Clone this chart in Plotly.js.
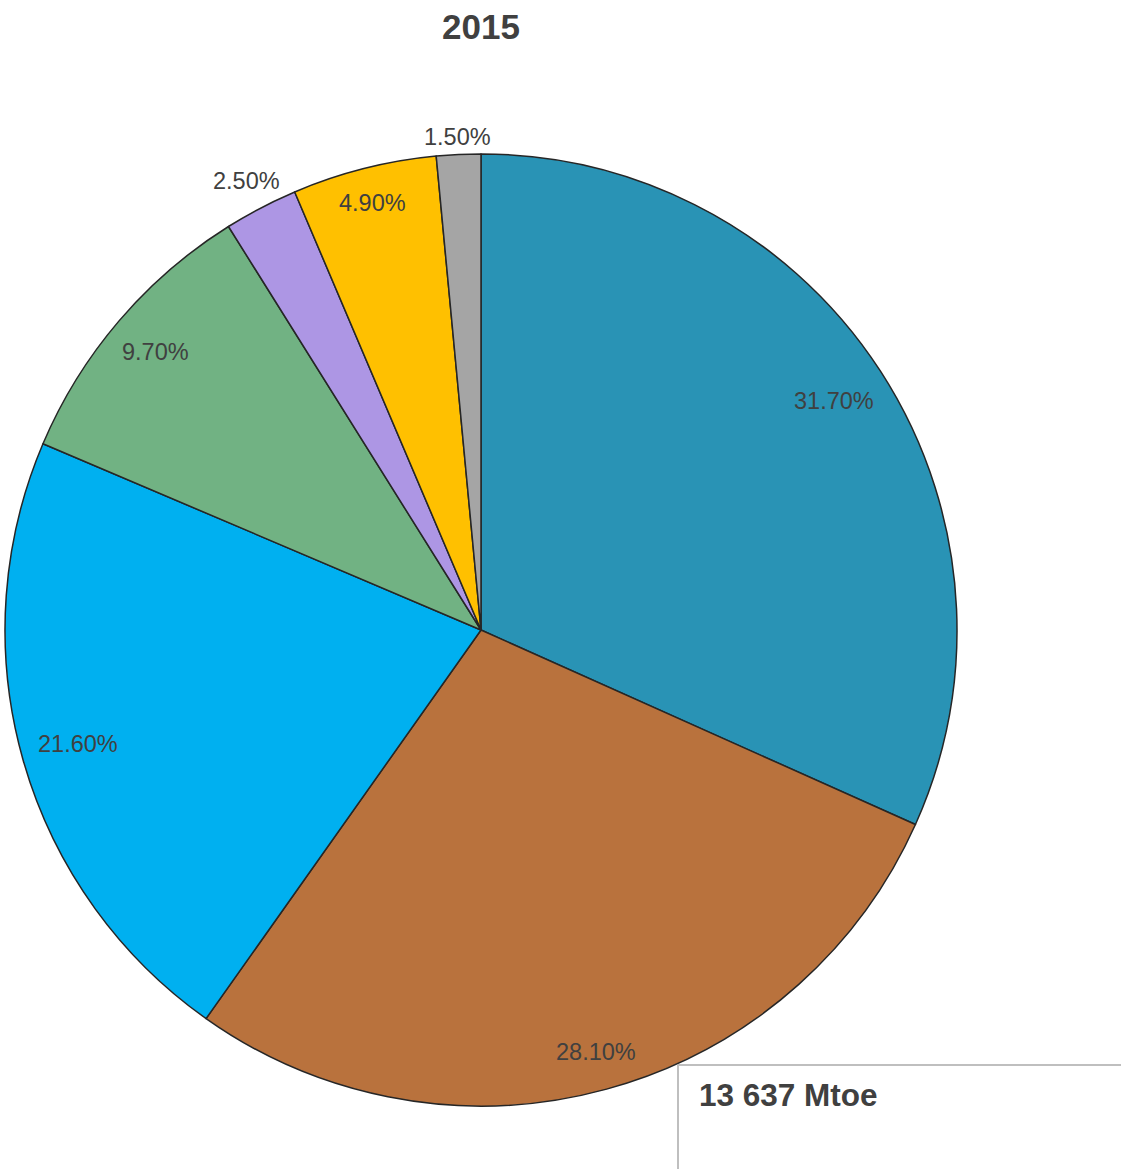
<!DOCTYPE html>
<html>
<head>
<meta charset="utf-8">
<script src="https://cdn.plot.ly/plotly-3.0.1.min.js"></script>
<style>
  html, body { margin: 0; padding: 0; background: #ffffff; }
  #chart { width: 1121px; height: 1169px; }
</style>
</head>
<body>
<div id="chart"></div>
<script>
// ---- data ----
const categories = ["Oil", "Coal", "Natural gas", "Biofuels & waste", "Hydro", "Nuclear", "Other renewables"];
const shares = [31.70, 28.10, 21.60, 9.70, 2.50, 4.90, 1.50];
const sliceColors = ["#2993b5", "#b9723d", "#00b0f0", "#71b283", "#ad96e4", "#ffc000", "#a5a5a5"];
const chartTitle = "2015";
const totalLabel = "13 637 Mtoe";

// ---- layout geometry (pixels) ----
const W = 1121, H = 1169;
const cx = 481, cy = 630, R = 476;
const labelFont = 23.5;
const textColor = "#404040";

function textWidth(s, size) {
  let w = 0;
  for (const ch of s) {
    if (/[0-9]/.test(ch)) w += 0.556;
    else if (ch === ".") w += 0.278;
    else if (ch === "%") w += 0.889;
    else w += 0.5;
  }
  return w * size;
}

// distance along direction d so that the corner (c) of the label box lands at radius T
function solveR(dx, dy, ccx, ccy, T) {
  const dc = dx * ccx + dy * ccy;
  const cc = ccx * ccx + ccy * ccy;
  return -dc + Math.sqrt(dc * dc - cc + T * T);
}

const total = shares.reduce((a, b) => a + b, 0);
const annotations = [];
let cum = 0;
shares.forEach((v) => {
  const mid = (cum + v / 2) / total * 2 * Math.PI;
  cum += v;
  const sx = Math.sin(mid), sy = -Math.cos(mid);
  const txt = v.toFixed(2) + "%";
  const hw = textWidth(txt, labelFont) / 2, hh = 12;
  const outside = v < 2.6;
  let r;
  if (outside) {
    r = solveR(sx, sy, -Math.sign(sx) * hw, -Math.sign(sy) * hh, R + 5);
  } else {
    r = solveR(sx, sy, Math.sign(sx) * hw, Math.sign(sy) * hh, R - 15);
  }
  const px = cx + r * sx, py = cy + r * sy;
  annotations.push({
    text: txt, xref: "paper", yref: "paper",
    x: px / W, y: 1 - py / H, xanchor: "center", yanchor: "middle",
    showarrow: false,
    font: { family: "Liberation Sans, Arial, sans-serif", size: labelFont, color: textColor }
  });
});

annotations.push({
  text: "<b>" + totalLabel + "</b>", xref: "paper", yref: "paper",
  x: 697 / W, y: 1 - 1095 / H, xanchor: "left", yanchor: "middle",
  showarrow: false,
  font: { family: "Liberation Sans, Arial, sans-serif", size: 31.5, color: textColor }
});

const trace = {
  type: "pie",
  labels: categories,
  values: shares,
  sort: false,
  direction: "clockwise",
  rotation: 0,
  textinfo: "none",
  hoverinfo: "none",
  marker: { colors: sliceColors, line: { color: "#262626", width: 1.5 } },
  domain: { x: [(cx - R) / W, (cx + R) / W], y: [1 - (cy + R) / H, 1 - (cy - R) / H] },
  showlegend: false
};

const layout = {
  width: W, height: H,
  margin: { l: 0, r: 0, t: 0, b: 0 },
  paper_bgcolor: "#ffffff",
  plot_bgcolor: "#ffffff",
  showlegend: false,
  title: {
    text: "<b>" + chartTitle + "</b>",
    x: 481 / W, xanchor: "center",
    y: 1 - 27 / H, yanchor: "middle", yref: "container",
    font: { family: "Liberation Sans, Arial, sans-serif", size: 35, color: textColor }
  },
  annotations: annotations,
  shapes: [
    { type: "line", xref: "paper", yref: "paper", x0: 678 / W, x1: 678 / W, y0: 1 - 1065 / H, y1: 0,
      line: { color: "#bfbfbf", width: 2 } },
    { type: "line", xref: "paper", yref: "paper", x0: 678 / W, x1: 1, y0: 1 - 1065 / H, y1: 1 - 1065 / H,
      line: { color: "#bfbfbf", width: 2 } }
  ]
};

Plotly.newPlot("chart", [trace], layout, { staticPlot: true, displayModeBar: false });
</script>
</body>
</html>
